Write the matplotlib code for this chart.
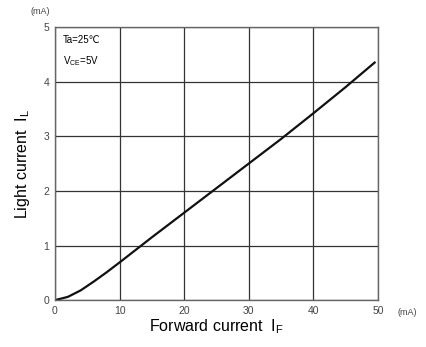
import matplotlib
matplotlib.use("Agg")
import matplotlib.pyplot as plt
import numpy as np

plt.rcParams['font.family'] = ['Liberation Sans', 'DejaVu Sans']
plt.rcParams['mathtext.fontset'] = 'custom'
plt.rcParams['mathtext.rm'] = 'Liberation Sans'

# forward current (mA) vs light current (mA)
forward_current = [0, 2, 4, 6, 8, 10, 15, 20, 25, 30, 35, 40, 45, 49.5]
light_current = [0, 0.06, 0.18, 0.34, 0.51, 0.69, 1.15, 1.6, 2.05, 2.5, 2.95, 3.42, 3.9, 4.35]

x_ticks = [0, 10, 20, 30, 40, 50]
y_ticks = [0, 1, 2, 3, 4, 5]

fig = plt.figure(figsize=(4.26, 3.47), dpi=100)
ax = fig.add_axes([0.129, 0.135, 0.758, 0.787])

ax.plot(forward_current, light_current, color='#111111', lw=1.6)

ax.set_xlim(0, 50)
ax.set_ylim(0, 5)
ax.set_xticks(x_ticks)
ax.set_yticks(y_ticks)
ax.tick_params(length=0, labelsize=7.5, colors='#444444', pad=4)
ax.grid(True, color='#333333', lw=0.9)
for s in ax.spines.values():
    s.set_color('#666666')
    s.set_linewidth(1.0)

ax.set_xlabel(r'Forward current  $\mathregular{I_F}$', fontsize=11.5, labelpad=1)
ax.set_ylabel(r'Light current  $\mathregular{I_L}$', fontsize=11.5, labelpad=8)

fig.text(0.094, 0.968, '(mA)', fontsize=6.5, color='#444444', ha='center', va='center')
fig.text(0.955, 0.098, '(mA)', fontsize=6.5, color='#444444', ha='center', va='center')

ax.text(1.2, 4.85, 'Ta=25\u2103', fontsize=7, va='top', ha='left')
ax.text(1.2, 4.5, r'V$\mathregular{_{CE}}$=5V', fontsize=7, va='top', ha='left')

fig.savefig('out.png', dpi=100)
